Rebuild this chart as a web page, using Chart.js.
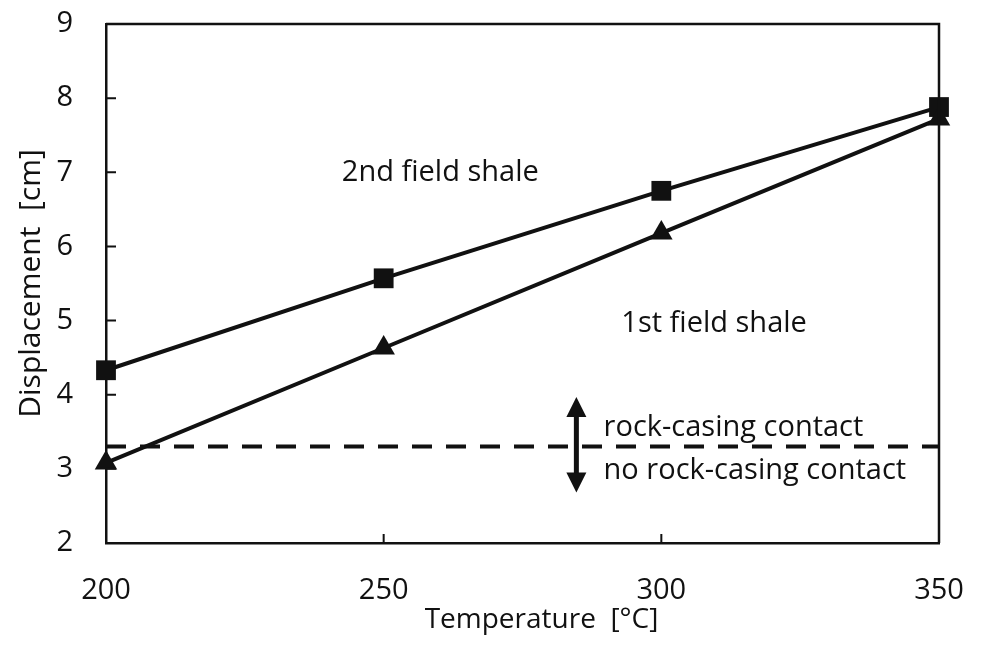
<!DOCTYPE html>
<html>
<head>
<meta charset="utf-8">
<script src="https://cdn.jsdelivr.net/npm/chart.js@4/dist/chart.umd.min.js"></script>
<style>
  html, body { margin: 0; padding: 0; background: #fff; }
  #wrap { width: 983px; height: 648px; }
</style>
</head>
<body>
<div id="wrap"><canvas id="c" width="983" height="648"></canvas></div>
<script>
// Temperature [°C] categories and displacement [cm] series
const temperatures = [200, 250, 300, 350];
const secondFieldShale = [4.33, 5.57, 6.75, 7.88];
const firstFieldShale = [3.08, 4.63, 6.18, 7.72];
const contactThreshold = 3.3;
const xTicks = [200, 250, 300, 350];
const yTicks = [2, 3, 4, 5, 6, 7, 8, 9];

const FONT = '"Open Sans", Lato, sans-serif';
const INK = '#111';

const toPoints = (vals) => temperatures.map((t, i) => ({ x: t, y: vals[i] }));

// Frame, inward tick marks, x-axis title and in-plot annotations
const decorations = {
  id: 'decorations',
  afterDatasetsDraw(chart) {
    const { ctx, chartArea: a, scales: { x, y } } = chart;
    ctx.save();
    ctx.strokeStyle = INK;
    ctx.lineWidth = 2.5;
    ctx.beginPath();
    ctx.moveTo(a.left, a.top); ctx.lineTo(a.right, a.top); ctx.lineTo(a.right, a.bottom);
    ctx.stroke();
    // inward ticks
    ctx.lineWidth = 2;
    ctx.beginPath();
    yTicks.slice(1, -1).forEach(v => {
      const py = y.getPixelForValue(v);
      ctx.moveTo(a.left, py); ctx.lineTo(a.left + 10, py);
    });
    xTicks.slice(1, -1).forEach(v => {
      const px = x.getPixelForValue(v);
      ctx.moveTo(px, a.bottom); ctx.lineTo(px, a.bottom - 9);
    });
    ctx.stroke();

    // double-headed arrow across the contact threshold
    const ax = x.getPixelForValue(284.7);
    const ay1 = y.getPixelForValue(3.97);
    const ay2 = y.getPixelForValue(2.68);
    ctx.fillStyle = INK;
    ctx.lineWidth = 5;
    ctx.beginPath();
    ctx.moveTo(ax, ay1 + 15); ctx.lineTo(ax, ay2 - 15);
    ctx.stroke();
    ctx.beginPath();
    ctx.moveTo(ax, ay1); ctx.lineTo(ax - 10, ay1 + 20); ctx.lineTo(ax + 10, ay1 + 20); ctx.closePath();
    ctx.fill();
    ctx.beginPath();
    ctx.moveTo(ax, ay2); ctx.lineTo(ax - 10, ay2 - 20); ctx.lineTo(ax + 10, ay2 - 20); ctx.closePath();
    ctx.fill();

    ctx.font = '29px ' + FONT;
    ctx.textBaseline = 'middle';
    ctx.textAlign = 'left';
    ctx.fillText('rock-casing contact', x.getPixelForValue(289.6), y.getPixelForValue(3.56));
    ctx.fillText('no rock-casing contact', x.getPixelForValue(289.6), y.getPixelForValue(2.98));
    ctx.textAlign = 'center';
    ctx.fillText('1st field shale', x.getPixelForValue(309.5), y.getPixelForValue(4.96));
    ctx.fillText('2nd field shale', x.getPixelForValue(260.2), y.getPixelForValue(7.0));

    // x-axis title
    ctx.font = '28px ' + FONT;
    ctx.fillText('Temperature  [°C]', (a.left + a.right) / 2 + 19, a.bottom + 77);
    ctx.restore();
  }
};

new Chart(document.getElementById('c'), {
  type: 'line',
  data: {
    datasets: [
      {
        label: 'no-contact boundary',
        data: [{ x: temperatures[0], y: contactThreshold }, { x: temperatures[temperatures.length - 1], y: contactThreshold }],
        borderColor: INK,
        borderWidth: 4,
        borderDash: [20, 14],
        pointRadius: 0,
        clip: false
      },
      {
        label: '1st field shale',
        data: toPoints(firstFieldShale),
        borderColor: INK,
        backgroundColor: INK,
        borderWidth: 4,
        pointStyle: 'triangle',
        pointRadius: 13,
        pointBorderWidth: 0,
        clip: false
      },
      {
        label: '2nd field shale',
        data: toPoints(secondFieldShale),
        borderColor: INK,
        backgroundColor: INK,
        borderWidth: 4,
        pointStyle: 'rect',
        pointRadius: 14,
        pointBorderWidth: 0,
        clip: false
      }
    ]
  },
  options: {
    responsive: false,
    animation: false,
    layout: { padding: { top: 24, right: 44, left: 0, bottom: 0 } },
    plugins: { legend: { display: false }, tooltip: { enabled: false } },
    scales: {
      x: {
        type: 'linear',
        min: 200, max: 350,
        afterBuildTicks: (s) => { s.ticks = xTicks.map(v => ({ value: v })); },
        afterFit: (s) => { s.height = 105; s.paddingLeft = 0; s.paddingRight = 0; },
        grid: { display: false, drawTicks: false },
        border: { display: true, color: INK, width: 2.5 },
        ticks: { color: INK, font: { family: FONT, size: 29 }, padding: 30, maxRotation: 0 },
        title: { display: false }
      },
      y: {
        min: 2, max: 9,
        afterBuildTicks: (s) => { s.ticks = yTicks.map(v => ({ value: v })); },
        afterFit: (s) => { s.width = 106; s.paddingTop = 0; s.paddingBottom = 0; },
        grid: { display: false, drawTicks: false },
        border: { display: true, color: INK, width: 2.5 },
        ticks: { color: INK, font: { family: FONT, size: 29 }, padding: 33 },
        title: { display: true, text: 'Displacement  [cm]', color: INK, font: { family: FONT, size: 30 }, padding: { top: 13, bottom: 0 } }
      }
    }
  },
  plugins: [decorations]
});
</script>
</body>
</html>
